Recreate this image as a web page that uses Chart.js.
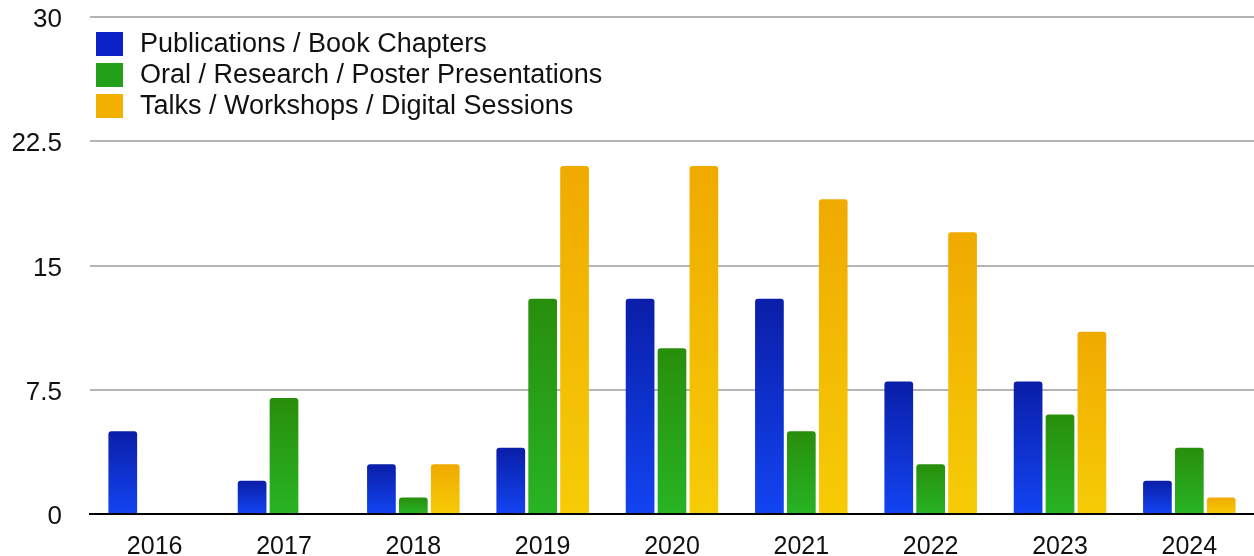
<!DOCTYPE html>
<html>
<head>
<meta charset="utf-8">
<script src="https://cdn.jsdelivr.net/npm/chart.js@4"></script>
<style>
html,body{margin:0;padding:0;background:#fff;}
#wrap{width:1254px;height:556px;position:relative;}
</style>
</head>
<body>
<div id="wrap"><canvas id="c" width="1254" height="556"></canvas></div>
<script>
const categories = ['2016','2017','2018','2019','2020','2021','2022','2023','2024'];
const publications = [5, 2, 3, 4, 13, 13, 8, 8, 2];
const presentations = [0, 7, 1, 13, 10, 5, 3, 6, 4];
const talks = [0, 0, 3, 21, 21, 19, 17, 11, 1];
const seriesNames = ['Publications / Book Chapters', 'Oral / Research / Poster Presentations', 'Talks / Workshops / Digital Sessions'];
const yTicks = [0, 7.5, 15, 22.5, 30];

const palettes = [
  {top:'#0a1ea8', bottom:'#1244f2', swatch:'#0a22c8'},
  {top:'#288e0c', bottom:'#28b424', swatch:'#23a01a'},
  {top:'#f0aa00', bottom:'#f6cc06', swatch:'#f2b000'}
];

function gradFor(idx){
  return function(ctx){
    const chart = ctx.chart;
    const area = chart.chartArea;
    if(!area || ctx.type !== 'data') return palettes[idx].swatch;
    const y = chart.scales.y;
    const v = ctx.parsed ? ctx.parsed.y : 0;
    const top = y.getPixelForValue(v);
    const bottom = y.getPixelForValue(0);
    if(!(bottom - top > 0.5)) return palettes[idx].swatch;
    const g = chart.ctx.createLinearGradient(0, top, 0, bottom);
    g.addColorStop(0, palettes[idx].top);
    g.addColorStop(1, palettes[idx].bottom);
    return g;
  };
}

const FONT = '"Liberation Sans", Arial, Helvetica, sans-serif';

const legendPlugin = {
  id: 'insideLegend',
  afterDraw(chart){
    const c = chart.ctx;
    c.save();
    c.font = '27px ' + FONT;
    c.textBaseline = 'middle';
    c.textAlign = 'left';
    chart.data.datasets.forEach((ds, i) => {
      const cy = 44 + i * 31;
      c.fillStyle = palettes[i].swatch;
      c.fillRect(96, cy - 12, 27, 24);
      c.fillStyle = '#111';
      c.fillText(ds.label, 140, cy + 1);
    });
    c.restore();
  }
};

new Chart(document.getElementById('c'), {
  type: 'bar',
  data: {
    labels: categories,
    datasets: [
      {label: seriesNames[0], data: publications, backgroundColor: gradFor(0)},
      {label: seriesNames[1], data: presentations, backgroundColor: gradFor(1)},
      {label: seriesNames[2], data: talks, backgroundColor: gradFor(2)}
    ]
  },
  options: {
    responsive: false,
    animation: false,
    devicePixelRatio: 1,
    layout: {padding: {top: 17, right: 0, left: 0, bottom: 0}},
    datasets: {bar: {categoryPercentage: 0.74, barPercentage: 0.9, borderRadius: {topLeft: 3, topRight: 3}, borderSkipped: 'bottom'}},
    plugins: {legend: {display: false}, tooltip: {enabled: false}},
    scales: {
      x: {
        grid: {display: false, drawTicks: false},
        border: {display: true, color: '#000', width: 2},
        ticks: {color: '#111', font: {size: 25, family: FONT}, padding: 18, maxRotation: 0},
        afterFit(s){ s.height = 42; s.paddingLeft = 0; s.paddingRight = 0; }
      },
      y: {
        min: 0, max: 30,
        afterBuildTicks(s){ s.ticks = yTicks.map(v => ({value: v})); },
        grid: {color: '#b4b4b4', lineWidth: 2, drawTicks: false},
        border: {display: false},
        ticks: {color: '#111', font: {size: 26, family: FONT}, padding: 28, labelOffset: 3,
          callback: v => String(v)},
        afterFit(s){ s.width = 90; s.paddingTop = 0; s.paddingBottom = 0; }
      }
    }
  },
  plugins: [legendPlugin]
});
</script>
</body>
</html>
